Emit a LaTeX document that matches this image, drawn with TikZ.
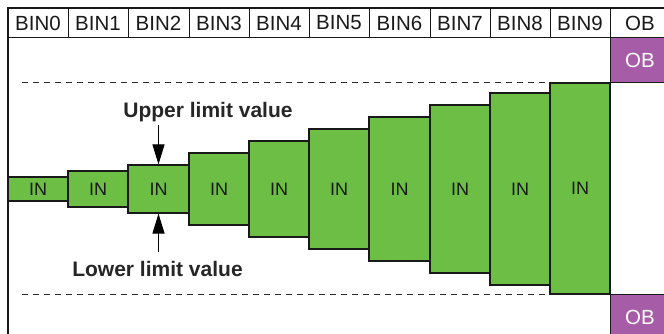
\documentclass[tikz,border=0pt]{standalone}
\usepackage{fontspec}
\setmainfont{Liberation Sans}
\usetikzlibrary{arrows.meta}
\definecolor{bingreen}{RGB}{109,190,69}
\definecolor{obpurple}{RGB}{166,92,166}
\definecolor{edgec}{RGB}{25,25,25}
\definecolor{dashc}{RGB}{45,45,45}
\begin{document}
\begin{tikzpicture}[x=1pt,y=-1pt,
  hdr/.style={draw=edgec, line width=1pt, minimum height=30pt, inner sep=0pt,
    font=\fontsize{20.5}{22}\selectfont, text=black!90},
  barbox/.style={draw=edgec, line width=1.2pt, fill=bingreen, inner sep=0pt,
    font=\fontsize{18}{20}\selectfont, text=black!90},
  obbox/.style={draw=edgec, line width=1pt, fill=obpurple, inner sep=0pt,
    text=white, font=\fontsize{20.5}{22}\selectfont},
  lbl/.style={inner sep=0pt, text=black!85, font=\bfseries\fontsize{21}{24}\selectfont},
  limarrow/.style={-{Triangle[length=20pt,width=12pt]}, line width=1.2pt, draw=black},
  dashline/.style={draw=dashc, line width=1pt, dash pattern=on 6pt off 5pt},
  frame/.style={draw=edgec, line width=1.4pt}]
\useasboundingbox (0,0) rectangle (664,334);
\fill[white] (0,0) rectangle (664,334);
% dashed limits
\coordinate (du1) at (22,83);  \coordinate (du2) at (550,83);
\coordinate (dl1) at (22,294); \coordinate (dl2) at (550,294);
\draw[dashline] (du1) -- (du2);
\draw[dashline] (dl1) -- (dl2);
% header
\foreach \i/\l/\r in {0/8/68,1/68/128,2/128/189,3/189/249,4/249/309,5/309/369,6/369/430,7/430/490,8/490/550,9/550/610}{
  \node[hdr, minimum width={(\r-\l)*1pt}] (h\i) at ({(\l+\r)/2},23) {BIN\i};
}
\node[hdr, minimum width=60pt] (hob) at (640,23) {OB};
% bars
\foreach \i/\l/\r/\t/\b in {0/8/68/177/201,1/68/128/171/207,2/128/189/165/213,3/189/249/153/225,4/249/309/141/237,5/309/369/129/249,6/369/430/117/261,7/430/490/105/273,8/490/550/93/285,9/550/610/83/294}{
  \node[barbox, minimum width={(\r-\l)*1pt}, minimum height={(\b-\t)*1pt}] (bar\i) at ({(\l+\r)/2},{(\t+\b)/2}) {IN};
}
% overflow boxes
\node[obbox, minimum width=60pt, minimum height=45pt] (obtop) at (640,60.5) {OB};
\node[obbox, minimum width=60pt, minimum height=46pt] (obbot) at (640,317) {OB};
% frame
\coordinate (f1) at (8,334); \coordinate (f2) at (8,8); \coordinate (f3) at (664,8);
\draw[frame] (f1) -- (f2) -- (f3);
% limit labels
\node[lbl, anchor=base] (upper) at (208,118) {Upper limit value};
\node[lbl, anchor=base] (lower) at (157.5,276) {Lower limit value};
\coordinate (ustart) at (158.5,125);
\coordinate (lstart) at (158.5,252);
\draw[limarrow] (ustart) -- (bar2.north);
\draw[limarrow] (lstart) -- (bar2.south);
\end{tikzpicture}
\end{document}
